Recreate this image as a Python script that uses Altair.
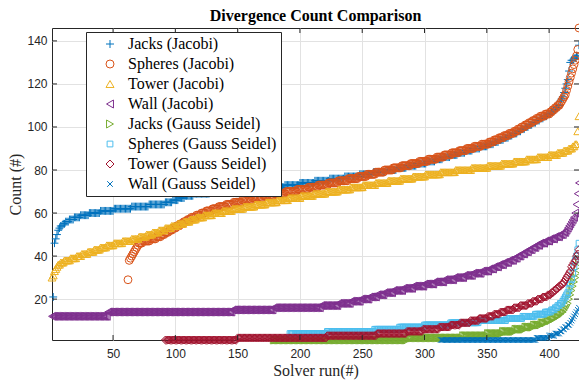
import altair as alt
import pandas as pd

# ---------------- data ----------------
series_names = ["Jacks (Jacobi)", "Spheres (Jacobi)", "Tower (Jacobi)", "Wall (Jacobi)",
                "Jacks (Gauss Seidel)", "Spheres (Gauss Seidel)", "Tower (Gauss Seidel)",
                "Wall (Gauss Seidel)"]

x_ticks = [50, 100, 150, 200, 250, 300, 350, 400]
y_ticks = [20, 40, 60, 80, 100, 120, 140]
END_X = 424

# each series: run index where a count value starts, and that count value
jacks_j_x = [2, 3, 4, 5, 6, 7, 8, 10, 12, 15, 19, 24, 31, 40, 51, 65, 79, 92, 98, 103, 108, 115,
             128, 145, 165, 188, 200, 212, 224, 236, 248, 259, 269, 278, 286, 294, 302, 309, 315,
             321, 327, 333, 339, 345, 351, 356, 360, 364, 368, 371, 375, 378, 381, 384, 387, 390,
             393, 396, 399, 402, 404, 406, 408, 409, 410, 411, 412, 413, 414, 415, 416, 417, 418,
             420, 422, 424]
jacks_j_y = [21, 46, 48, 50, 52, 53, 54, 55, 56, 57, 58, 59, 60, 61, 62, 63, 64, 65, 66, 67, 68, 69,
             70, 71, 72, 73, 74, 75, 76, 77, 78, 79, 80, 81, 82, 83, 84, 85, 86,
             87, 88, 89, 90, 91, 92, 93, 94, 95, 96, 97, 98, 99, 100, 101, 102, 103,
             104, 105, 106, 107, 108, 109, 110, 112, 113, 114, 116, 118, 120, 122, 126, 130, 131,
             132, 133, 138]

spheres_j_x = [62, 63, 64, 65, 66, 67, 68, 69, 70, 71, 74, 80, 85, 89, 92, 95, 98, 101, 104, 107,
               110, 113, 117, 121, 125, 130, 135, 141, 147, 154, 162, 171, 180, 189, 198, 207, 215,
               223, 231, 239, 247, 254, 261, 268, 275, 282, 289, 296, 303, 310, 316, 322, 328, 334,
               340, 346, 352, 356, 360, 364, 368, 372, 375, 378, 381, 384, 387, 390, 393, 397, 401,
               403, 405, 407, 409, 410, 411, 412, 413, 414, 415, 416, 417, 418, 419, 420, 421, 422,
               423, 424]
spheres_j_y = [29, 38, 39, 40, 41, 42, 43, 44, 45, 46, 47, 48, 49, 50, 51, 52, 53, 54, 55, 56,
               57, 58, 59, 60, 61, 62, 63, 64, 65, 66, 67, 68, 69, 70, 71, 72, 73,
               74, 75, 76, 77, 78, 79, 80, 81, 82, 83, 84, 85, 86, 87, 88, 89, 90,
               91, 92, 93, 94, 95, 96, 97, 98, 99, 100, 101, 102, 103, 104, 105, 106, 107,
               108, 109, 110, 111, 112, 113, 114, 115, 117, 119, 121, 123, 125, 127, 129, 131, 133,
               136, 146]

tower_j_x = [1, 2, 3, 4, 5, 6, 8, 11, 16, 21, 25, 30, 35, 40, 45, 51, 58, 65, 71, 77, 82, 87, 92,
             97, 102, 107, 112, 117, 123, 130, 138, 146, 155, 164, 173, 182, 191, 201, 211, 221,
             231, 241, 251, 261, 271, 281, 291, 301, 313, 325, 338, 351, 362, 372, 382, 391, 400,
             407, 412, 416, 419, 421, 423, 424]
tower_j_y = [30, 31, 33, 34, 35, 36, 37, 38, 39, 40, 41, 42, 43, 44, 45, 46, 47, 48, 49, 50, 51, 52, 53,
             54, 55, 56, 57, 58, 59, 60, 61, 62, 63, 64, 65, 66, 67, 68, 69, 70,
             71, 72, 73, 74, 75, 76, 77, 78, 79, 80, 81, 82, 83, 84, 85, 86, 87,
             88, 89, 90, 91, 92, 98, 105]

wall_j_x = [1, 46, 146, 179, 217, 231, 241, 249, 256, 262, 268, 275, 283, 291, 300, 308, 316, 324,
            332, 339, 346, 352, 356, 360, 364, 368, 372, 375, 378, 381, 384, 387, 390, 393, 397,
            401, 405, 409, 412, 414, 415, 416, 417, 418, 419, 420, 421, 422, 423, 424]
wall_j_y = [12, 14, 15, 16, 17, 18, 19, 20, 21, 22, 23, 24, 25, 26, 27, 28, 29, 30,
            31, 32, 33, 34, 35, 36, 37, 38, 39, 40, 41, 42, 43, 44, 45, 46, 47,
            48, 49, 50, 51, 52, 53, 54, 55, 56, 57, 58, 60, 64, 69, 74]

jacks_gs_x = [179, 287, 331, 351, 363, 373, 381, 388, 394, 398, 402, 405, 408, 410, 412, 413, 414,
              415, 416, 417, 418, 419, 420, 421, 422, 423, 424]
jacks_gs_y = [1, 2, 3, 4, 5, 6, 7, 8, 9, 10, 11, 12, 13, 14, 15, 16, 17,
              18, 20, 22, 24, 26, 28, 30, 32, 35, 38]

spheres_gs_x = [192, 222, 260, 280, 300, 321, 344, 366, 379, 389, 397, 402, 405, 407, 409, 411,
                412, 413, 414, 415, 416, 417, 418, 419, 420, 421, 422, 423, 424]
spheres_gs_y = [4, 5, 6, 7, 8, 9, 10, 11, 12, 13, 14, 15, 16, 17, 18, 19,
                20, 21, 22, 23, 25, 27, 29, 32, 35, 38, 40, 43, 46]

tower_gs_x = [92, 150, 222, 262, 286, 299, 312, 321, 329, 337, 344, 351, 356, 361, 366, 372, 377,
              383, 387, 391, 395, 399, 402, 404, 406, 408, 410, 412, 413, 414, 415, 416, 417, 418,
              419, 420, 421, 422, 423, 424]
tower_gs_y = [1, 2, 3, 4, 5, 6, 7, 8, 9, 10, 11, 12, 13, 14, 15, 16, 17,
              18, 19, 20, 21, 22, 23, 24, 25, 26, 27, 28, 29, 30, 31, 32, 33, 35,
              36, 37, 38, 40, 41, 43]

wall_gs_x = [313, 390, 400, 405, 409, 411, 413, 415, 417, 418, 419, 420, 421, 422, 423, 424]
wall_gs_y = [1, 2, 3, 4, 5, 6, 7, 8, 9, 10, 11, 12, 13, 14, 15, 16]

series_steps = [(jacks_j_x, jacks_j_y), (spheres_j_x, spheres_j_y), (tower_j_x, tower_j_y),
                (wall_j_x, wall_j_y), (jacks_gs_x, jacks_gs_y), (spheres_gs_x, spheres_gs_y),
                (tower_gs_x, tower_gs_y), (wall_gs_x, wall_gs_y)]

# ---------------- styles ----------------
colors = ["#0072BD", "#D95319", "#EDB120", "#7E2F8E", "#77AC30", "#4DBEEE", "#A2142F", "#0072BD"]
plus_path = "M-1,0L1,0M0,-1L0,1"
x_path = "M-0.7,-0.7L0.7,0.7M-0.7,0.7L0.7,-0.7"
square_path = "M-0.72,-0.72L0.72,-0.72L0.72,0.72L-0.72,0.72Z"
shapes = [plus_path, "circle", "triangle-up", "triangle-left", "triangle-right", square_path,
          "diamond", x_path]

rows = []
idx = 0
for name, (xs, ys) in zip(series_names, series_steps):
    for i, (x0, v) in enumerate(zip(xs, ys)):
        x1 = xs[i + 1] if i + 1 < len(xs) else END_X + 1
        for x in range(x0, x1):
            rows.append({"run": x, "count": v, "series": name, "idx": idx})
            idx += 1
df = pd.DataFrame(rows)

W, H = 527, 312
AX = "#262626"
xscale = alt.Scale(domain=[1, END_X], nice=False, zero=False)
yscale = alt.Scale(domain=[1, 146], nice=False, zero=False)
xaxis = alt.Axis(values=x_ticks, title="Solver run(#)")
yaxis = alt.Axis(values=y_ticks, title="Count (#)")

legend_props = dict(
    title=None, orient="none", legendX=34, legendY=4, padding=4,
    strokeColor=AX, fillColor="white",
    labelFont="Liberation Serif", labelFontSize=16, labelColor="black", labelLimit=300,
    symbolSize=64, symbolStrokeWidth=1, symbolOpacity=1, rowPadding=4,
    labelOffset=10, symbolOffset=12,
)

points = alt.Chart(df).mark_point(filled=False, size=62, strokeWidth=1, opacity=1).encode(
    x=alt.X("run:Q", scale=xscale, axis=xaxis),
    y=alt.Y("count:Q", scale=yscale, axis=yaxis),
    color=alt.Color("series:N", scale=alt.Scale(domain=series_names, range=colors),
                    legend=alt.Legend(**legend_props)),
    shape=alt.Shape("series:N", scale=alt.Scale(domain=series_names, range=shapes),
                    legend=alt.Legend(**legend_props)),
    order=alt.Order("idx:Q"),
)

xt = pd.DataFrame({"run": x_ticks})
yt = pd.DataFrame({"count": y_ticks})
bottom_ticks = alt.Chart(xt).mark_rule(color=AX, strokeWidth=1).encode(
    x=alt.X("run:Q", scale=xscale, axis=xaxis), y=alt.value(H), y2=alt.value(H - 5))
top_ticks = alt.Chart(xt).mark_rule(color=AX, strokeWidth=1).encode(
    x=alt.X("run:Q", scale=xscale, axis=xaxis), y=alt.value(0), y2=alt.value(5))
left_ticks = alt.Chart(yt).mark_rule(color=AX, strokeWidth=1).encode(
    y=alt.Y("count:Q", scale=yscale, axis=yaxis), x=alt.value(0), x2=alt.value(5))
right_ticks = alt.Chart(yt).mark_rule(color=AX, strokeWidth=1).encode(
    y=alt.Y("count:Q", scale=yscale, axis=yaxis), x=alt.value(W), x2=alt.value(W - 5))

chart = alt.layer(points, bottom_ticks, top_ticks, left_ticks, right_ticks).properties(
    width=W, height=H,
    padding={"left": 52, "top": 28, "right": 0, "bottom": 41},
    autosize=alt.AutoSizeParams(type="none"),
    title=alt.TitleParams(text="Divergence Count Comparison", font="Liberation Serif",
                          fontSize=16, fontWeight="bold", anchor="middle", frame="group",
                          baseline="alphabetic", offset=-15, color="black"),
).configure_view(
    stroke=AX, strokeWidth=1
).configure_axis(
    grid=True, gridColor="#e2e2e2", gridWidth=1, domain=False, ticks=False, tickSize=0,
    labelFont="Liberation Sans", labelFontSize=12, labelColor=AX,
    titleFont="Liberation Serif", titleFontSize=16, titleFontWeight="normal", titleColor=AX,
).configure_axisX(
    labelPadding=8, titleY=35, titleBaseline="alphabetic",
).configure_axisY(
    labelPadding=5, titleX=-32, titleY=156, titleBaseline="alphabetic",
)

chart.save("out.html", embed_options={"renderer": "svg", "actions": False})
